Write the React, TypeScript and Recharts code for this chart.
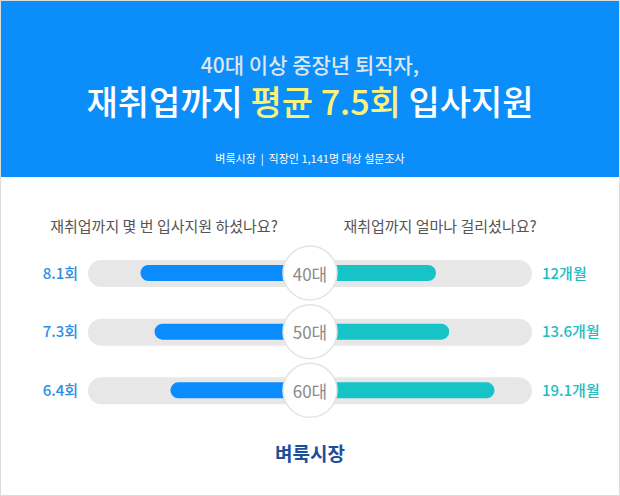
import React from "react";
import { BarChart, Bar, XAxis, YAxis, LabelList } from "recharts";

const ageGroups = ["40대", "50대", "60대"];
const applyCounts = [8.1, 7.3, 6.4];
const monthsTaken = [12, 13.6, 19.1];

const titleLine1 = "40대 이상 중장년 퇴직자,";
const titleA = "재취업까지 ";
const titleHighlight = "평균 7.5회";
const titleB = " 입사지원";
const subtitle = "벼룩시장  |  직장인 1,141명 대상 설문조사";
const leftQuestion = "재취업까지 몇 번 입사지원 하셨나요?";
const rightQuestion = "재취업까지 얼마나 걸리셨나요?";
const footer = "벼룩시장";

// axis domains (left side reversed)
const L_MIN = -1.53;
const L_MAX = 11.08;
const R_MIN = -3.27;
const R_MAX = 23.64;

const data = ageGroups.map((age, i) => ({
  age,
  apply: applyCounts[i],
  months: monthsTaken[i],
  track: 1,
}));

const FONT = '"Noto Sans CJK KR", "Noto Sans", sans-serif';

const AgeBadge = (props: any) => {
  const { x, y, height, value } = props;
  const cy = y + height / 2;
  return (
    <g>
      <circle cx={x} cy={cy} r={27} fill="#ffffff" stroke="#e4e4e4" strokeWidth={1.5} />
      <text
        x={x}
        y={cy}
        textAnchor="middle"
        dominantBaseline="central"
        style={{ fontFamily: FONT, fontSize: 17, fill: "#8a8a8a" }}
      >
        {value}
      </text>
    </g>
  );
};

export default function App() {
  return (
    <div
      style={{
        position: "absolute",
        left: 0,
        top: 0,
        width: 620,
        height: 496,
        boxSizing: "border-box",
        border: "1px solid #dcdcdc",
        background: "#ffffff",
        fontFamily: FONT,
        overflow: "hidden",
      }}
    >
      <div
        style={{
          position: "absolute",
          left: 0,
          top: 0,
          width: 620,
          height: 176,
          background: "#0b8ef9",
        }}
      />
      <div
        style={{
          position: "absolute",
          left: 0,
          width: 618,
          top: 49,
          height: 28,
          lineHeight: "28px",
          textAlign: "center",
          fontSize: 21,
          fontWeight: 500,
          color: "#dfe5ec",
        }}
      >
        {titleLine1}
      </div>
      <div
        style={{
          position: "absolute",
          left: 0,
          width: 618,
          top: 79,
          height: 42,
          lineHeight: "42px",
          textAlign: "center",
          fontSize: 34,
          fontWeight: 500,
          color: "#ffffff",
          whiteSpace: "pre",
        }}
      >
        {titleA}
        <span style={{ color: "#fbf27a" }}>{titleHighlight}</span>
        {titleB}
      </div>
      <div
        style={{
          position: "absolute",
          left: 0,
          width: 618,
          top: 149,
          height: 16,
          lineHeight: "16px",
          textAlign: "center",
          fontSize: 11,
          color: "#ffffff",
          whiteSpace: "pre",
        }}
      >
        {subtitle}
      </div>

      <div
        style={{
          position: "absolute",
          left: 13,
          width: 300,
          top: 214,
          height: 22,
          lineHeight: "22px",
          textAlign: "center",
          fontSize: 15,
          color: "#555555",
        }}
      >
        {leftQuestion}
      </div>
      <div
        style={{
          position: "absolute",
          left: 289,
          width: 300,
          top: 214,
          height: 22,
          lineHeight: "22px",
          textAlign: "center",
          fontSize: 15,
          color: "#555555",
        }}
      >
        {rightQuestion}
      </div>

      <div style={{ position: "absolute", left: -1, top: 243 }}>
        <BarChart
          layout="vertical"
          width={620}
          height={176}
          data={data}
          margin={{ top: 0, right: 0, bottom: 0, left: 0 }}
          barCategoryGap={0}
        >
          <XAxis xAxisId="t" type="number" domain={[0, 1]} hide />
          <XAxis
            xAxisId="l"
            type="number"
            domain={[L_MIN, L_MAX]}
            allowDataOverflow
            reversed
            padding={{ left: 0, right: 222 }}
            hide
          />
          <XAxis
            xAxisId="r"
            type="number"
            domain={[R_MIN, R_MAX]}
            allowDataOverflow
            padding={{ left: 222, right: 0 }}
            hide
          />
          <YAxis
            yAxisId="t"
            type="category"
            dataKey="age"
            width={88}
            axisLine={false}
            tickLine={false}
            tickSize={0}
            tickMargin={10}
            tick={{ fill: "#2b8fe6", fontSize: 15, fontWeight: 500, fontFamily: FONT }}
            tickFormatter={(v: string) => `${applyCounts[ageGroups.indexOf(v)]}회`}
          />
          <YAxis yAxisId="b" type="category" dataKey="age" width={0} hide />
          <YAxis
            yAxisId="r"
            orientation="right"
            type="category"
            dataKey="age"
            width={88}
            axisLine={false}
            tickLine={false}
            tickSize={0}
            tickMargin={10}
            tick={{ fill: "#22bcc2", fontSize: 15, fontWeight: 500, fontFamily: FONT }}
            tickFormatter={(v: string) => `${monthsTaken[ageGroups.indexOf(v)]}개월`}
          />
          <Bar
            xAxisId="t"
            yAxisId="t"
            dataKey="track"
            barSize={27}
            fill="#e7e7e7"
            radius={13.5}
            isAnimationActive={false}
          />
          <Bar
            xAxisId="l"
            yAxisId="b"
            dataKey={(d: any) => [L_MIN, d.apply]}
            barSize={16}
            fill="#0a8cff"
            radius={8}
            isAnimationActive={false}
          />
          <Bar
            xAxisId="r"
            yAxisId="r"
            dataKey={(d: any) => [R_MIN, d.months]}
            barSize={16}
            fill="#16c3c7"
            radius={8}
            isAnimationActive={false}
          >
            <LabelList dataKey="age" content={AgeBadge} />
          </Bar>
        </BarChart>
      </div>

      <div
        style={{
          position: "absolute",
          left: 0,
          width: 618,
          top: 440,
          height: 24,
          lineHeight: "24px",
          textAlign: "center",
          fontSize: 19,
          fontWeight: 700,
          color: "#1d4f9d",
        }}
      >
        {footer}
      </div>
    </div>
  );
}
